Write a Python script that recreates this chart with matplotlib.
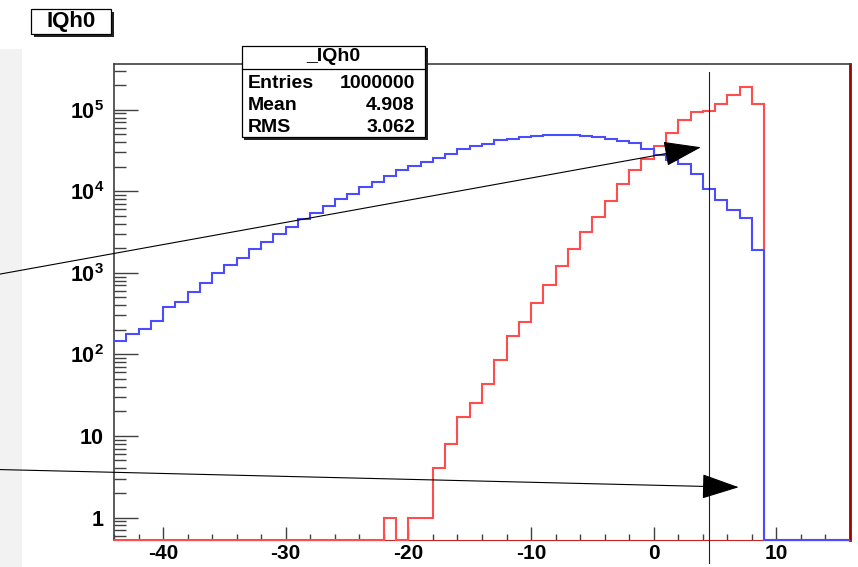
import numpy as np
import matplotlib
matplotlib.use("Agg")
import matplotlib.pyplot as plt
from matplotlib.patches import Rectangle, FancyArrowPatch, ArrowStyle
from matplotlib.ticker import FixedLocator, LogLocator, MultipleLocator, NullFormatter, FuncFormatter

plt.rcParams['font.family'] = ['Liberation Sans', 'DejaVu Sans']
plt.rcParams['mathtext.fontset'] = 'custom'
plt.rcParams['mathtext.rm'] = 'Liberation Sans'
plt.rcParams['mathtext.bf'] = 'Liberation Sans:bold'

# histogram binning: 60 unit bins from -44 to 16
bin_edges = np.arange(-44, 17)

# blue histogram (bins -44 ... 15)
blue_counts = [147, 180, 202, 258, 383, 441, 584, 754, 1000, 1254,
               1528, 1953, 2360, 2958, 3667, 4518, 5352, 6637, 7955, 9250,
               11170, 13090, 15240, 18200, 20210, 22640, 25780, 28850, 32660, 35870,
               37940, 42150, 44070, 46240, 47550, 48960, 49500, 49000, 47550, 45830,
               43350, 41690, 39000, 32660, 27800, 24150, 21740, 16400, 10740, 7730,
               5830, 4730, 1900, 0, 0, 0, 0, 0, 0, 0]

# red histogram (bins -44 ... 15)
red_counts = [0, 0, 0, 0, 0, 0, 0, 0, 0, 0,
              0, 0, 0, 0, 0, 0, 0, 0, 0, 0,
              0, 0, 1, 0, 1, 1, 4, 8, 17, 25,
              43, 85, 167, 248, 428, 700, 1208, 1969, 3155, 4866,
              7590, 12250, 18200, 25050, 35870, 51330, 74760, 94460, 97240, 117500,
              150300, 191300, 117500, 0, 0, 0, 0, 0, 0, 0]

stats_name = "_IQh0"
stats_rows = [("Entries", "1000000"), ("Mean", "4.908"), ("RMS", "3.062")]

cut_x = 4.52
cut_span = (2.9e5, 0.28)
arrow_tails = [(-53.3, 964), (-53.3, 3.87)]
arrow_tips = [(3.85, 34600), (6.93, 2.35)]

y_lo, y_hi = 0.53, 3.63e5

W, H = 858, 567
fig = plt.figure(figsize=(W / 100, H / 100), dpi=100)


def px(x, y):
    return x / W, 1 - y / H


# light grey strip at the left edge of the canvas
fig.patches.append(Rectangle(px(0, H), 22 / W, (H - 49) / H, transform=fig.transFigure,
                             facecolor='#f2f2f2', edgecolor='none', zorder=-5))

ax = fig.add_axes([114 / W, 1 - 540 / H, (850 - 114) / W, (540 - 64) / H])
ax.patch.set_alpha(0)
ax.set_xlim(-44, 16)
ax.set_yscale('log')
ax.set_ylim(y_lo, y_hi)

red = np.clip(np.array(red_counts, dtype=float), y_lo, None)
blue = np.clip(np.array(blue_counts, dtype=float), y_lo, None)
ax.stairs(red, bin_edges, baseline=None, color='#ff4c4c', lw=1.5, clip_on=False, zorder=3)
ax.stairs(blue, bin_edges, baseline=None, color='#4c4cff', lw=1.5, clip_on=False, zorder=4)

ax.plot([cut_x, cut_x], cut_span, color='#222222', lw=0.8, clip_on=False, zorder=5)

for tail, tip in zip(arrow_tails, arrow_tips):
    arr = FancyArrowPatch(tail, tip, arrowstyle=ArrowStyle('-|>', head_length=24, head_width=8),
                          mutation_scale=1, color='black', lw=0.8, shrinkA=0, shrinkB=0,
                          clip_on=False, zorder=6)
    ax.add_patch(arr)

# axis styling, ROOT-like ticks pointing inwards
for side in ['left', 'top']:
    ax.spines[side].set_color('#404040')
    ax.spines[side].set_linewidth(1.2)
ax.spines['bottom'].set_color('#cc2222')
ax.spines['right'].set_color('#a00000')
ax.spines['right'].set_linewidth(2)

ax.xaxis.set_major_locator(MultipleLocator(10))
ax.xaxis.set_minor_locator(MultipleLocator(2))
ax.yaxis.set_major_locator(FixedLocator([1, 10, 1e2, 1e3, 1e4, 1e5]))
ax.yaxis.set_minor_locator(LogLocator(base=10, subs=np.arange(2, 10)))
ax.yaxis.set_minor_formatter(NullFormatter())


def ylab(v, pos):
    e = int(round(np.log10(v)))
    if e == 0:
        return r'$\mathbf{1}$'
    if e == 1:
        return r'$\mathbf{10}$'
    return r'$\mathbf{10^{%d}}$' % e


ax.yaxis.set_major_formatter(FuncFormatter(ylab))
ax.xaxis.set_major_formatter(FuncFormatter(lambda v, p: '%d' % v))

ax.tick_params(axis='x', which='major', direction='in', length=9.4, width=1, color='#404040',
               labelsize=15, pad=3)
ax.tick_params(axis='x', which='minor', direction='in', length=4.3, width=1, color='#404040')
ax.tick_params(axis='y', which='major', direction='in', length=17, width=1, color='#404040',
               labelsize=15.5, pad=7)
ax.tick_params(axis='y', which='minor', direction='in', length=8.6, width=1, color='#404040')
for lab in ax.get_xticklabels():
    lab.set_fontweight('bold')


def boxed(x0, y0, x1, y1):
    # white box with a dark drop shadow, in canvas pixels
    fig.patches.append(Rectangle(px(x0 + 2.5, y1 + 2.5), (x1 - x0) / W, (y1 - y0) / H,
                                 transform=fig.transFigure, facecolor='#222222',
                                 edgecolor='none', zorder=8))
    fig.patches.append(Rectangle(px(x0, y1), (x1 - x0) / W, (y1 - y0) / H,
                                 transform=fig.transFigure, facecolor='white',
                                 edgecolor='black', lw=0.9, zorder=9))


# title box
boxed(31, 9, 111, 34)
fig.text(*px(71, 22), "IQh0", ha='center', va='center', fontsize=16, fontweight='bold', zorder=10)

# statistics box
boxed(242, 46, 425, 137)
fig.add_artist(plt.Line2D([242 / W, 425 / W], [1 - 69 / H, 1 - 69 / H], transform=fig.transFigure,
                          color='black', lw=0.9, zorder=10))
fig.text(*px(333, 57), stats_name, ha='center', va='center', fontsize=14, fontweight='bold', zorder=10)
for i, (name, val) in enumerate(stats_rows):
    yy = 83 + 22.5 * i
    fig.text(*px(248, yy), name, ha='left', va='center', fontsize=14, fontweight='bold', zorder=10)
    fig.text(*px(415, yy), val, ha='right', va='center', fontsize=14, fontweight='bold', zorder=10)

fig.savefig('out.png', dpi=100)
